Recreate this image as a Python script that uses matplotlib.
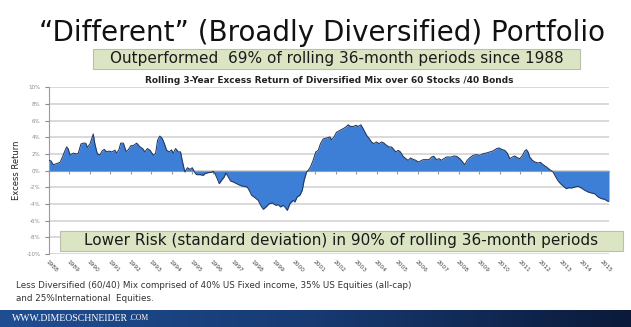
import matplotlib.pyplot as plt
import numpy as np
from matplotlib.colors import LinearSegmentedColormap
from matplotlib.patches import Rectangle

# Rolling 3-year excess return (%), sampled along the time axis (decimal years)
PERIOD = [
    1988.00, 1988.10, 1988.21, 1988.37, 1988.54, 1988.65, 1988.78, 1988.86, 1988.94,
    1989.02, 1989.19, 1989.35, 1989.43, 1989.56, 1989.67, 1989.79, 1989.87,
    1990.00, 1990.08, 1990.16, 1990.24, 1990.36, 1990.49, 1990.60, 1990.70, 1990.81, 1990.93,
    1991.06, 1991.22, 1991.30, 1991.41, 1991.50, 1991.63, 1991.76, 1991.87,
    1992.00, 1992.11, 1992.28, 1992.44, 1992.57, 1992.68, 1992.80, 1992.93,
    1993.09, 1993.20, 1993.30, 1993.41, 1993.53, 1993.63, 1993.74, 1993.87, 1993.98,
    1994.06, 1994.18, 1994.31, 1994.42, 1994.50, 1994.63, 1994.76, 1994.88, 1994.99,
    1995.07, 1995.12, 1995.20, 1995.37, 1995.53, 1995.61, 1995.77, 1995.93,
    1996.02, 1996.10, 1996.21, 1996.31, 1996.42, 1996.55, 1996.63, 1996.75, 1996.86, 1996.99,
    1997.15, 1997.32, 1997.48, 1997.67, 1997.77, 1997.89,
    1998.05, 1998.21, 1998.33, 1998.46, 1998.59, 1998.75, 1998.91,
    1999.07, 1999.19, 1999.30, 1999.43, 1999.51, 1999.63, 1999.76, 1999.92,
    2000.00, 2000.11, 2000.24, 2000.36, 2000.45, 2000.57, 2000.65, 2000.76, 2000.89,
    2001.02, 2001.14, 2001.25, 2001.38, 2001.71, 2001.79, 2001.90,
    2002.03, 2002.20, 2002.36, 2002.49, 2002.60, 2002.72, 2002.85, 2002.98,
    2003.09, 2003.22, 2003.33, 2003.50, 2003.63, 2003.74, 2003.85, 2003.98,
    2004.11, 2004.23, 2004.34, 2004.47, 2004.60, 2004.72, 2004.83, 2004.93,
    2005.04, 2005.15, 2005.28, 2005.41, 2005.53, 2005.64, 2005.77, 2005.90,
    2006.02, 2006.13, 2006.26, 2006.42, 2006.55, 2006.67, 2006.78, 2006.91,
    2007.04, 2007.15, 2007.27, 2007.40, 2007.53, 2007.64, 2007.76, 2007.89,
    2008.05, 2008.18, 2008.29, 2008.41, 2008.54, 2008.70, 2008.86,
    2009.02, 2009.19, 2009.35, 2009.51, 2009.67, 2009.84, 2009.97,
    2010.08, 2010.24, 2010.36, 2010.49, 2010.62, 2010.73, 2010.85, 2010.98,
    2011.11, 2011.22, 2011.30, 2011.38, 2011.46, 2011.59, 2011.71, 2011.87, 2011.98,
    2012.11, 2012.28, 2012.44, 2012.60, 2012.73, 2012.85, 2012.96,
    2013.09, 2013.25, 2013.38, 2013.50, 2013.66, 2013.82, 2013.98,
    2014.15, 2014.31, 2014.47, 2014.63, 2014.80, 2014.96,
    2015.12, 2015.24, 2015.33,
]
EXCESS_RETURN = [
    1.24, 1.16, 0.70, 0.84, 1.00, 1.60, 2.40, 2.85, 2.60,
    1.90, 2.10, 2.00, 2.10, 3.20, 3.30, 3.30, 2.80,
    3.20, 3.80, 4.40, 3.20, 2.00, 1.90, 2.40, 2.55, 2.25, 2.35,
    2.25, 2.45, 2.10, 2.50, 3.30, 3.30, 2.30, 2.50,
    3.00, 3.00, 3.30, 2.85, 2.65, 2.25, 2.65, 2.45,
    1.85, 2.05, 3.65, 4.15, 3.85, 3.25, 2.45, 2.25, 2.50,
    2.10, 2.65, 2.25, 2.25, 1.24, -0.15, 0.35, 0.15, 0.35,
    0.00, -0.24, -0.48, -0.48, -0.56, -0.36, -0.24, -0.20,
    -0.08, -0.36, -0.96, -1.56, -1.16, -0.76, -0.28, -0.76, -1.24, -1.36,
    -1.56, -1.76, -1.88, -1.96, -2.36, -2.96,
    -3.24, -3.56, -4.16, -4.64, -4.36, -3.96, -3.88,
    -4.16, -4.08, -4.36, -4.16, -4.36, -4.76, -3.96, -3.56,
    -3.76, -3.16, -2.96, -2.36, -1.16, -0.16, 0.04, 0.44, 1.24,
    2.24, 2.44, 3.24, 3.80, 4.04, 3.70, 4.00,
    4.60, 4.84, 5.04, 5.24, 5.50, 5.30, 5.30, 5.44,
    5.30, 5.50, 5.04, 4.24, 3.84, 3.44, 3.24, 3.44,
    3.24, 3.44, 3.32, 3.04, 2.84, 2.84, 2.52, 2.24,
    2.44, 2.24, 1.72, 1.44, 1.24, 1.52, 1.36, 1.24,
    1.04, 1.16, 1.32, 1.32, 1.32, 1.64, 1.72, 1.32,
    1.44, 1.24, 1.44, 1.64, 1.64, 1.64, 1.76, 1.72,
    1.44, 1.04, 0.72, 1.24, 1.56, 1.84, 1.92,
    1.84, 2.04, 2.12, 2.24, 2.36, 2.64, 2.72,
    2.56, 2.44, 2.12, 1.44, 1.64, 1.76, 1.56, 1.44,
    1.84, 2.36, 2.52, 2.24, 1.64, 1.24, 1.04, 0.92, 1.00,
    0.72, 0.44, 0.12, -0.16, -0.76, -1.24, -1.56,
    -1.84, -2.16, -2.04, -2.08, -1.96, -1.88, -2.08,
    -2.36, -2.56, -2.68, -2.76, -3.16, -3.36,
    -3.44, -3.64, -3.68,
]
YEAR_LABELS = list(range(1988, 2016))
Y_TICKS = list(range(-10, 11, 2))

TITLE = "\u201cDifferent\u201d (Broadly Diversified) Portfolio"
TOP_NOTE = "Outperformed  69% of rolling 36-month periods since 1988"
BOTTOM_NOTE = "Lower Risk (standard deviation) in 90% of rolling 36-month periods"
CHART_TITLE = "Rolling 3-Year Excess Return of Diversified Mix over 60 Stocks /40 Bonds"
FOOTNOTE = ("Less Diversified (60/40) Mix comprised of 40% US Fixed income, 35% US Equities (all-cap)\n"
            "and 25%International  Equities.")

W, H = 631, 327


def fx(px):
    return px / W


def fy(py):
    return 1 - py / H


fig = plt.figure(figsize=(W / 100, H / 100), dpi=100)
fig.patch.set_facecolor("white")

# main chart area
ax = fig.add_axes([fx(49), fy(254), fx(609) - fx(49), fy(87.3) - fy(254)])
ax.set_xlim(PERIOD[0], PERIOD[-1])
ax.set_ylim(-10, 10)
ax.set_yticks(Y_TICKS)
ax.set_yticklabels([f"{v}%" for v in Y_TICKS])
ax.yaxis.grid(True, color="#cfcfcf", lw=1.1)
ax.set_axisbelow(True)
ax.tick_params(axis="y", labelsize=4, colors="#8a8a8a", length=3, width=0.8, pad=3)
ax.tick_params(axis="x", labelbottom=False, length=2.5, width=0.8, color="#9a9a9a", direction="out")
ax.set_xticks(YEAR_LABELS)
for side in ("top", "right"):
    ax.spines[side].set_visible(False)
ax.spines["left"].set_color("#9a9a9a")
ax.spines["bottom"].set_position(("data", 0))
ax.spines["bottom"].set_color("#9a9a9a")

x = np.array(PERIOD)
y = np.array(EXCESS_RETURN)
ax.fill_between(x, y, 0, color="#3d7fd6", lw=0, zorder=2)
ax.plot(x, y, color="#23375c", lw=0.75, zorder=3)
ax.vlines(x[-1], y[-1], 0, color="#23375c", lw=0.75, zorder=3)

ax.set_ylabel("Excess Return", fontsize=6, color="#222222", labelpad=4)

for year in YEAR_LABELS:
    ax.text(year - 0.1, -10.8, str(year), rotation=-45, rotation_mode="anchor",
            ha="left", va="center", fontsize=4.2, color="#444444", clip_on=False)

ax.set_title(CHART_TITLE, fontsize=6.5, fontweight="bold", color="#222222", pad=3)

# headline and call-out boxes
fig.text(fx(322), fy(33), TITLE, fontsize=20, ha="center", va="center", color="#111111")

fig.patches.append(Rectangle((fx(93), fy(69)), fx(580) - fx(93), fy(49) - fy(69),
                             transform=fig.transFigure, facecolor="#dbe5c3",
                             edgecolor="#b8bfae", lw=0.8, zorder=5))
fig.text(fx(337), fy(59), TOP_NOTE, fontsize=11, ha="center", va="center",
         color="#1a1a1a", zorder=6)

fig.patches.append(Rectangle((fx(60), fy(251)), fx(623) - fx(60), fy(231) - fy(251),
                             transform=fig.transFigure, facecolor="#dbe5c3",
                             edgecolor="#b8bfae", lw=0.8, zorder=5))
fig.text(fx(341), fy(241), BOTTOM_NOTE, fontsize=11, ha="center", va="center",
         color="#1a1a1a", zorder=6)

fig.text(fx(16), fy(292), FOOTNOTE, fontsize=6.3, ha="left", va="center",
         color="#333333", linespacing=1.45)

# footer bar with horizontal blue gradient
bar = fig.add_axes([0, 0, 1, fy(310)])
bar.imshow(np.linspace(0, 1, 256)[None, :], aspect="auto", extent=(0, 1, 0, 1),
           cmap=LinearSegmentedColormap.from_list("footer", ["#1f4e93", "#173a72", "#0b1a3a"]))
bar.set_axis_off()
bar.text(0.019, 0.5, "WWW.DIMEOSCHNEIDER", fontsize=7, family="Liberation Serif",
         color="white", ha="left", va="center", transform=bar.transAxes)
bar.text(0.205, 0.5, ".COM", fontsize=5.5, family="Liberation Serif",
         color="white", ha="left", va="center", transform=bar.transAxes)

fig.savefig("out.png", dpi=100)
